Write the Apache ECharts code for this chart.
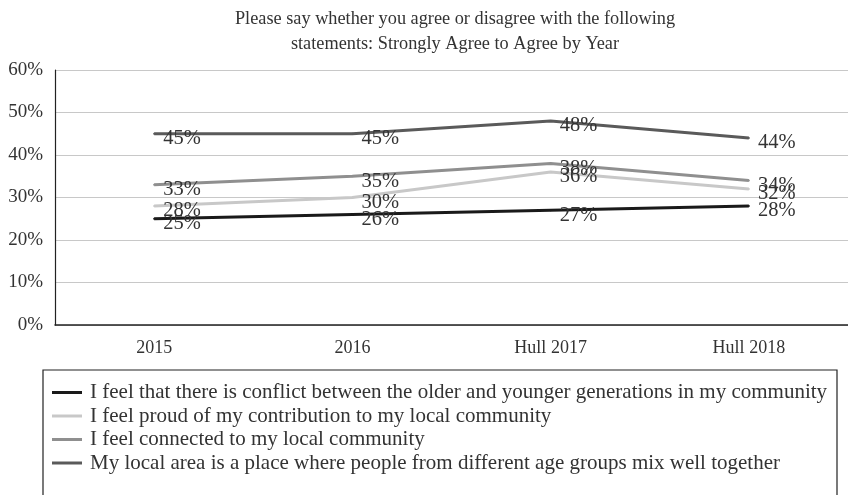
<!DOCTYPE html>
<html>
<head>
<meta charset="utf-8">
<script src="https://cdn.jsdelivr.net/npm/echarts@6/dist/echarts.min.js"></script>
<style>
  html, body { margin: 0; padding: 0; background: #fff; }
  #chart { width: 848px; height: 495px; }
</style>
</head>
<body>
<div id="chart"></div>
<script>
// Survey years on the category axis
const years = ['2015', '2016', 'Hull 2017', 'Hull 2018'];

// Share answering "Strongly Agree" or "Agree" (%)
const conflictValues = [25, 26, 27, 28];
const proudValues = [28, 30, 36, 32];
const connectedValues = [33, 35, 38, 34];
const mixValues = [45, 45, 48, 44];

const seriesNames = [
  'I feel that there is conflict between the older and younger generations in my community',
  'I feel proud of my contribution to my local community',
  'I feel connected to my local community',
  'My local area is a place where people from different age groups mix well together'
];
const seriesColors = ['#1a1a1a', '#c8c8c8', '#8f8f8f', '#5a5a5a'];
const seriesValues = [conflictValues, proudValues, connectedValues, mixValues];

const FONT = '"Liberation Serif", "DejaVu Serif", serif';
const TEXT = '#333333';

const chart = echarts.init(document.getElementById('chart'), null, { renderer: 'canvas' });

chart.setOption({
  backgroundColor: '#ffffff',
  animation: false,
  title: {
    text: 'Please say whether you agree or disagree with the following\nstatements: Strongly Agree to Agree by Year',
    left: 450,
    top: 2,
    textAlign: 'center',
    textStyle: {
      fontFamily: FONT,
      fontSize: 18.3,
      fontWeight: 'normal',
      color: TEXT,
      lineHeight: 25
    }
  },
  grid: {
    left: 55,
    top: 70,
    width: 804,
    bottom: 170
  },
  xAxis: {
    type: 'category',
    data: years,
    boundaryGap: true,
    axisLine: { show: true, lineStyle: { color: '#222', width: 1.5 } },
    axisTick: { show: false },
    axisLabel: {
      fontFamily: FONT,
      fontSize: 18,
      color: TEXT,
      margin: 14
    }
  },
  yAxis: {
    type: 'value',
    min: 0,
    max: 60,
    interval: 10,
    axisLine: { show: true, lineStyle: { color: '#222', width: 1.2 } },
    axisTick: { show: false },
    splitLine: { lineStyle: { color: '#c8c8c8', width: 1.2 } },
    axisLabel: {
      formatter: '{value}%',
      fontFamily: FONT,
      fontSize: 19,
      color: TEXT,
      margin: 12
    }
  },
  // Legend frame runs past the bottom edge of the canvas
  graphic: [{
    type: 'rect',
    shape: { x: 43, y: 370, width: 794, height: 160 },
    style: { fill: null, stroke: '#222', lineWidth: 1.2 },
    silent: true
  }],
  legend: {
    orient: 'vertical',
    left: 43,
    top: 370,
    padding: [12, 8, 0, 9],
    itemGap: 2.5,
    itemWidth: 30,
    itemHeight: 3,
    icon: 'rect',
    data: seriesNames,
    textStyle: {
      fontFamily: FONT,
      fontSize: 21,
      color: TEXT,
      padding: [0, 0, 0, 3],
      lineHeight: 21
    }
  },
  series: seriesNames.map((name, i) => ({
    name: name,
    type: 'line',
    data: seriesValues[i],
    color: seriesColors[i],
    symbol: 'circle',
    symbolSize: 2,
    lineStyle: { width: 3, color: seriesColors[i] },
    itemStyle: { color: seriesColors[i] },
    z: i === 0 ? 5 : 2,
    label: {
      show: true,
      position: 'right',
      distance: 8,
      offset: [0, 5],
      formatter: p => p.value + '%',
      fontFamily: FONT,
      fontSize: 20.5,
      color: TEXT
    }
  }))
});
</script>
</body>
</html>
